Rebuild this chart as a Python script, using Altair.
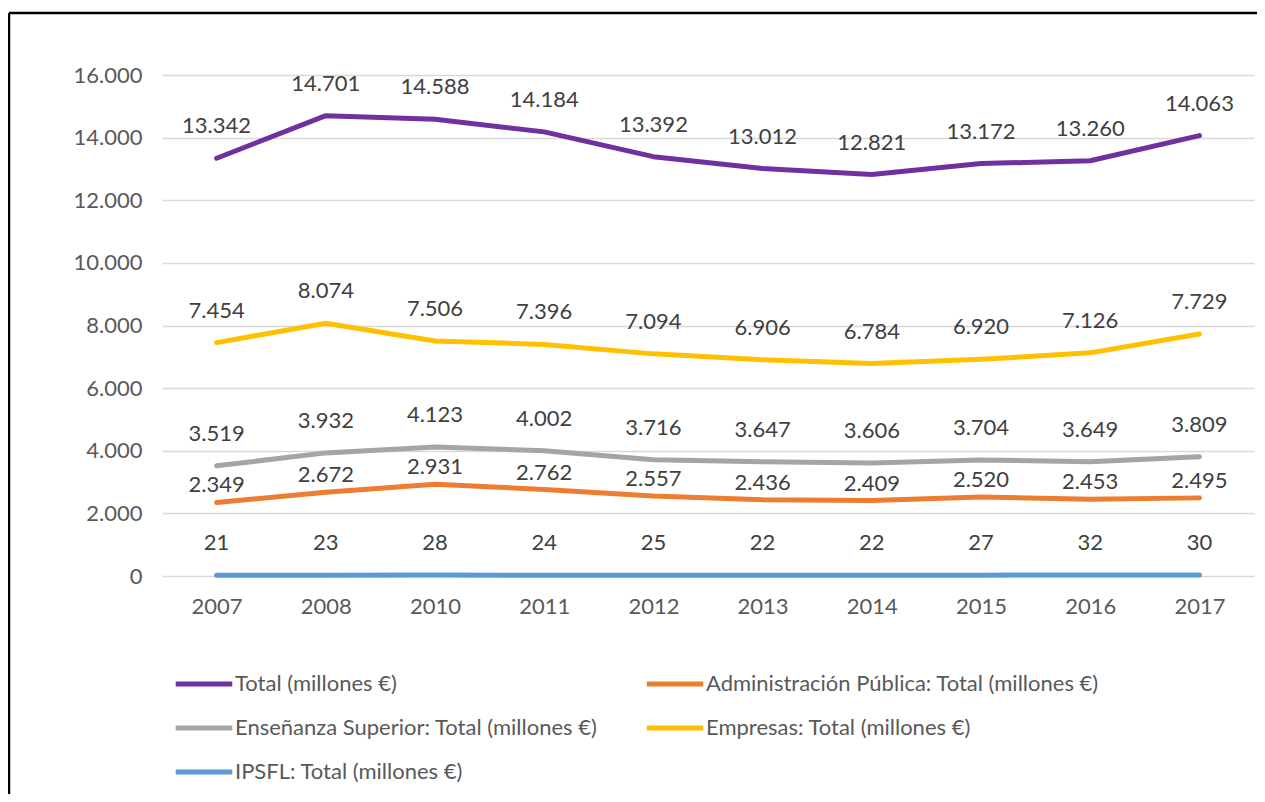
import altair as alt
import pandas as pd

years = ["2007", "2008", "2010", "2011", "2012", "2013", "2014", "2015", "2016", "2017"]
total = [13342, 14701, 14588, 14184, 13392, 13012, 12821, 13172, 13260, 14063]
admin = [2349, 2672, 2931, 2762, 2557, 2436, 2409, 2520, 2453, 2495]
ensenanza = [3519, 3932, 4123, 4002, 3716, 3647, 3606, 3704, 3649, 3809]
empresas = [7454, 8074, 7506, 7396, 7094, 6906, 6784, 6920, 7126, 7729]
ipsfl = [21, 23, 28, 24, 25, 22, 22, 27, 32, 30]

n_total = "Total (millones €)"
n_admin = "Administración Pública: Total  (millones €)"
n_ens = "Enseñanza Superior: Total (millones €)"
n_emp = "Empresas: Total  (millones €)"
n_ipsfl = "IPSFL: Total  (millones €)"

series_names = [n_total, n_admin, n_ens, n_emp, n_ipsfl]
series_values = [total, admin, ensenanza, empresas, ipsfl]
# legend fills column by column: column 1 = Total, Enseñanza, IPSFL; column 2 = Admin, Empresas
legend_order = [n_total, n_ens, n_ipsfl, n_admin, n_emp]
legend_colors = ["#7030A0", "#A5A5A5", "#5B9BD5", "#ED7D31", "#FFC000"]
y_ticks = [0, 2000, 4000, 6000, 8000, 10000, 12000, 14000, 16000]

rows = []
for name, vals in zip(series_names, series_values):
    for yr, v in zip(years, vals):
        rows.append({"year": yr, "serie": name, "value": v})
df = pd.DataFrame(rows)

FONT = "Lato"
FS = 22
W, H = 1092, 501

x_enc = alt.X("year:N", sort=years, scale=alt.Scale(type="point", padding=0.5),
              axis=alt.Axis(title=None, labelAngle=0, domain=False, ticks=False, grid=False,
                            labelPadding=20, labelFontSize=FS, labelFont=FONT,
                            labelColor="#595959"))
y_enc = alt.Y("value:Q", scale=alt.Scale(domain=[0, 16000], nice=False),
              axis=alt.Axis(title=None, values=y_ticks, domain=False, ticks=False,
                            gridColor="#d9d9d9", gridWidth=1.5, labelPadding=20,
                            labelFontSize=FS, labelFont=FONT, labelColor="#595959",
                            labelExpr="replace(format(datum.value, ','), ',', '.')"))
color_enc = alt.Color("serie:N", sort=legend_order,
                      scale=alt.Scale(domain=legend_order, range=legend_colors),
                      legend=alt.Legend(orient="none", legendX=11, legendY=578, columns=2,
                                        title=None, symbolType="stroke", symbolSize=3200,
                                        symbolStrokeWidth=5, labelFontSize=FS, labelFont=FONT,
                                        labelColor="#595959", columnPadding=38, rowPadding=2,
                                        labelOffset=0, labelLimit=600))

base = alt.Chart(df)

lines = base.mark_line(strokeWidth=5, strokeCap="round", strokeJoin="round").encode(
    x=x_enc, y=y_enc, color=color_enc)

label_expr = "replace(format(datum.value, ','), ',', '.')"
labels_main = base.transform_filter(
    alt.datum.serie != n_admin
).transform_calculate(lbl=label_expr).mark_text(
    dy=-32, fontSize=FS, font=FONT, color="#404040"
).encode(x=alt.X("year:N", sort=years), y="value:Q", text="lbl:N")

labels_admin = base.transform_filter(
    alt.datum.serie == n_admin
).transform_calculate(lbl=label_expr).mark_text(
    dy=-17, fontSize=FS, font=FONT, color="#404040"
).encode(x=alt.X("year:N", sort=years), y="value:Q", text="lbl:N")

frame = pd.DataFrame({"k": [0]})
top_border = alt.Chart(frame).mark_rule(color="black", strokeWidth=2.5).encode(
    x=alt.value(-153), x2=alt.value(1200), y=alt.value(-62))
left_border = alt.Chart(frame).mark_rule(color="black", strokeWidth=2.5).encode(
    x=alt.value(-153), y=alt.value(-62), y2=alt.value(900))

chart = alt.layer(lines, labels_main, labels_admin, top_border, left_border).properties(
    width=W, height=H,
    autosize=alt.AutoSizeParams(type="none"),
    padding={"left": 154, "top": 67, "right": 3, "bottom": 218},
    background="white",
).configure_view(strokeWidth=0)

chart.save("out.html", embed_options={"renderer": "svg", "actions": False})
